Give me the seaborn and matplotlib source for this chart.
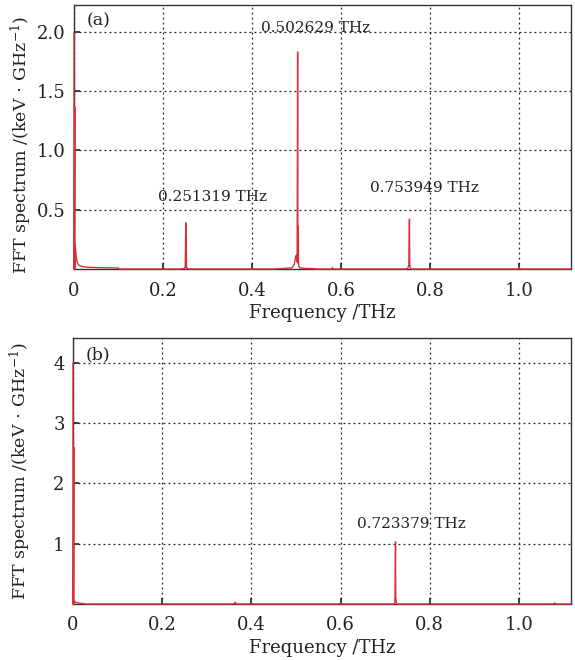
import numpy as np
import pandas as pd
import matplotlib
matplotlib.use("Agg")
import matplotlib.pyplot as plt
import seaborn as sns

# ---- data ----
freq_a = [0.0, 0.0, 0.0008, 0.0018, 0.0018, 0.0025, 0.004, 0.005, 0.007, 0.010, 0.015,
          0.020, 0.030, 0.050, 0.080, 0.100, 0.102, 0.240, 0.248, 0.2500, 0.2513,
          0.2518, 0.2522, 0.2528, 0.2535, 0.2545, 0.257, 0.260, 0.450, 0.470, 0.490,
          0.495, 0.498, 0.500, 0.5015, 0.5026, 0.5032, 0.5040, 0.5046, 0.5052, 0.507,
          0.510, 0.520, 0.540, 0.545, 0.580, 0.581, 0.582, 0.745, 0.750, 0.7525,
          0.7539, 0.7546, 0.7555, 0.7570, 0.760, 0.998, 1.000, 1.002, 1.117]
amp_a = [2.00, 0.00, 0.00, 1.37, 0.00, 0.20, 0.15, 0.10, 0.06, 0.035, 0.025,
         0.020, 0.015, 0.012, 0.010, 0.008, 0.000, 0.000, 0.005, 0.020, 0.390,
         0.010, 0.250, 0.020, 0.010, 0.005, 0.002, 0.000, 0.000, 0.005, 0.010,
         0.040, 0.100, 0.120, 0.060, 1.830, 0.050, 0.360, 0.060, 0.030, 0.010,
         0.008, 0.005, 0.003, 0.000, 0.000, 0.012, 0.000, 0.000, 0.005, 0.030,
         0.420, 0.030, 0.010, 0.003, 0.000, 0.000, 0.015, 0.000, 0.000]

freq_b = [0.0, 0.0, 0.0008, 0.0018, 0.0018, 0.003, 0.006, 0.010, 0.020, 0.030,
          0.360, 0.3645, 0.365, 0.370, 0.720, 0.722, 0.7234, 0.7238, 0.7242,
          0.7250, 0.728, 1.078, 1.080, 1.082, 1.117]
amp_b = [4.00, 0.00, 0.00, 2.60, 0.00, 0.05, 0.03, 0.02, 0.01, 0.00,
         0.00, 0.03, 0.00, 0.00, 0.00, 0.02, 1.03, 0.10, 0.10,
         0.02, 0.00, 0.00, 0.02, 0.00, 0.00]

peaks_a = [0.251319, 0.502629, 0.753949]
peak_labels_a = ["0.251319 THz", "0.502629 THz", "0.753949 THz"]
peaks_b = [0.723379]
peak_labels_b = ["0.723379 THz"]

xticks = [0, 0.2, 0.4, 0.6, 0.8, 1.0]
xticklabels = ["0", "0.2", "0.4", "0.6", "0.8", "1.0"]
yticks_a = [0.5, 1.0, 1.5, 2.0]
yticks_b = [1, 2, 3, 4]

sns.set_theme(style="white")
plt.rcParams['font.family'] = ['DejaVu Serif']
plt.rcParams['mathtext.fontset'] = 'dejavuserif'

fig = plt.figure(figsize=(5.75, 6.6), dpi=100)
ax1 = fig.add_axes([74/575, 1-269/660, (571-74)/575, (269-5)/660])
ax2 = fig.add_axes([73/575, 1-604/660, (571-73)/575, (604-338)/660])

red = "#d8313b"
df_a = pd.DataFrame({"f": freq_a, "a": amp_a})
df_b = pd.DataFrame({"f": freq_b, "a": amp_b})
sns.lineplot(data=df_a, x="f", y="a", ax=ax1, sort=False, estimator=None,
             color=red, lw=1.0, zorder=3, clip_on=False)
sns.lineplot(data=df_b, x="f", y="a", ax=ax2, sort=False, estimator=None,
             color=red, lw=1.0, zorder=3, clip_on=False)

ylabel = "FFT spectrum /(keV$\\,\\cdot\\,$GHz$^{-1}$)"
for ax, yt, ymax, ly in [(ax1, yticks_a, 2.226, 0.47), (ax2, yticks_b, 4.41, 0.5)]:
    ax.set_xlim(0, 1.117)
    ax.set_ylim(0, ymax)
    ax.set_xticks(xticks)
    ax.set_xticklabels(xticklabels)
    ax.set_yticks(yt)
    ax.set_yticklabels([("%g" % v) if ax is ax2 else ("%.1f" % v) for v in yt])
    ax.grid(True, ls=(0, (1.5, 2.5)), color="#222222", lw=0.9)
    ax.tick_params(direction="in", length=4, width=1.2, colors="#222222",
                   labelsize=13, labelcolor="#222222", bottom=True, left=True)
    ax.tick_params(axis="x", pad=9)
    ax.tick_params(axis="y", pad=6)
    for s in ax.spines.values():
        s.set_color("#333333")
        s.set_linewidth(1.0)
    ax.set_xlabel("Frequency /THz", fontsize=13, color="#222222", labelpad=3)
    ax.set_ylabel(ylabel, fontsize=12.5, color="#222222")
    ax.yaxis.set_label_coords(-0.08, ly)

ax1.text(0.312, 0.607, peak_labels_a[0], ha="center", va="center", fontsize=11, color="#222222")
ax1.text(0.544, 2.03, peak_labels_a[1], ha="center", va="center", fontsize=11, color="#222222")
ax1.text(0.787, 0.683, peak_labels_a[2], ha="center", va="center", fontsize=11, color="#222222")
ax2.text(0.760, 1.33, peak_labels_b[0], ha="center", va="center", fontsize=11, color="#222222")
ax1.text(0.055, 2.09, "(a)", ha="center", va="center", fontsize=12.5, color="#222222")
ax2.text(0.055, 4.13, "(b)", ha="center", va="center", fontsize=12.5, color="#222222")

fig.savefig("out.png", dpi=100, facecolor="white")
